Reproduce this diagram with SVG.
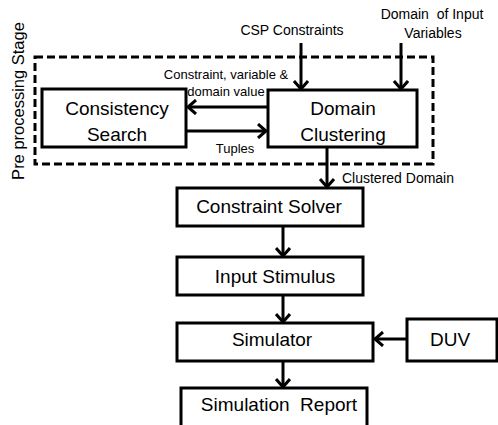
<svg xmlns="http://www.w3.org/2000/svg" width="498" height="425" viewBox="0 0 498 425">
<style>
.box{fill:#fff;stroke:#000;stroke-width:3}
.dash{fill:none;stroke:#000;stroke-width:3;stroke-dasharray:8,4}
.t{font-family:"Liberation Sans",Arial,sans-serif;font-size:19px;fill:#000;text-anchor:middle}
.s{font-family:"Liberation Sans",Arial,sans-serif;font-size:13px;fill:#000;text-anchor:middle}
.m{font-family:"Liberation Sans",Arial,sans-serif;font-size:14px;fill:#000;text-anchor:middle}
.c{fill:none;stroke:#000;stroke-width:3}
</style>
<defs>
<marker id="ah" markerUnits="userSpaceOnUse" markerWidth="14" markerHeight="16" refX="11" refY="8" orient="auto">
<path d="M3,1 L11,8 L3,15" fill="none" stroke="#000" stroke-width="3"/>
</marker>
</defs>
<rect class="dash" x="35" y="57" width="398" height="107"/>
<text class="t" transform="translate(24,101) rotate(-90)" style="font-size:16.5px">Pre processing Stage</text>
<g id="consistency"><rect class="box" x="42" y="89" width="144" height="58"/><text class="t" x="117" y="115">Consistency</text><text class="t" x="117" y="141">Search</text></g>
<g id="clustering"><rect class="box" x="268" y="90" width="149" height="57"/><text class="t" x="343" y="115">Domain</text><text class="t" x="343" y="141">Clustering</text></g>
<g id="solver"><rect class="box" x="177" y="188" width="186" height="38"/><text class="t" x="269" y="213">Constraint Solver</text></g>
<g id="stimulus"><rect class="box" x="177" y="257" width="186" height="38"/><text class="t" x="275" y="283">Input Stimulus</text></g>
<g id="simulator"><rect class="box" x="177" y="323" width="196" height="38"/><text class="t" x="272" y="346">Simulator</text></g>
<g id="duv"><rect class="box" x="407" y="319" width="90" height="42"/><text class="t" x="450" y="346">DUV</text></g>
<g id="report"><rect class="box" x="181" y="388" width="186" height="45"/><text class="t" x="279" y="411" xml:space="preserve">Simulation  Report</text></g>
<g id="labels">
<text class="m" x="292" y="35">CSP Constraints</text>
<text class="m" x="432" y="19" xml:space="preserve">Domain  of Input</text>
<text class="m" x="433" y="38">Variables</text>
<text class="s" x="226" y="79">Constraint, variable &amp;</text>
<text class="s" x="226" y="96">domain value</text>
<text class="s" x="235" y="153">Tuples</text>
<text class="m" x="398" y="183">Clustered Domain</text>
</g>
<g id="connectors">
<line class="c" x1="301" y1="43" x2="301" y2="89" marker-end="url(#ah)"/>
<line class="c" x1="401" y1="43" x2="401" y2="89" marker-end="url(#ah)"/>
<line class="c" x1="268" y1="107" x2="188" y2="107" marker-end="url(#ah)"/>
<line class="c" x1="186" y1="131" x2="266" y2="131" marker-end="url(#ah)"/>
<line class="c" x1="327" y1="147" x2="327" y2="187" marker-end="url(#ah)"/>
<line class="c" x1="283" y1="226" x2="283" y2="256" marker-end="url(#ah)"/>
<line class="c" x1="283" y1="295" x2="283" y2="322" marker-end="url(#ah)"/>
<line class="c" x1="407" y1="339" x2="375" y2="339" marker-end="url(#ah)"/>
<line class="c" x1="283" y1="361" x2="283" y2="387" marker-end="url(#ah)"/>
</g>
</svg>
